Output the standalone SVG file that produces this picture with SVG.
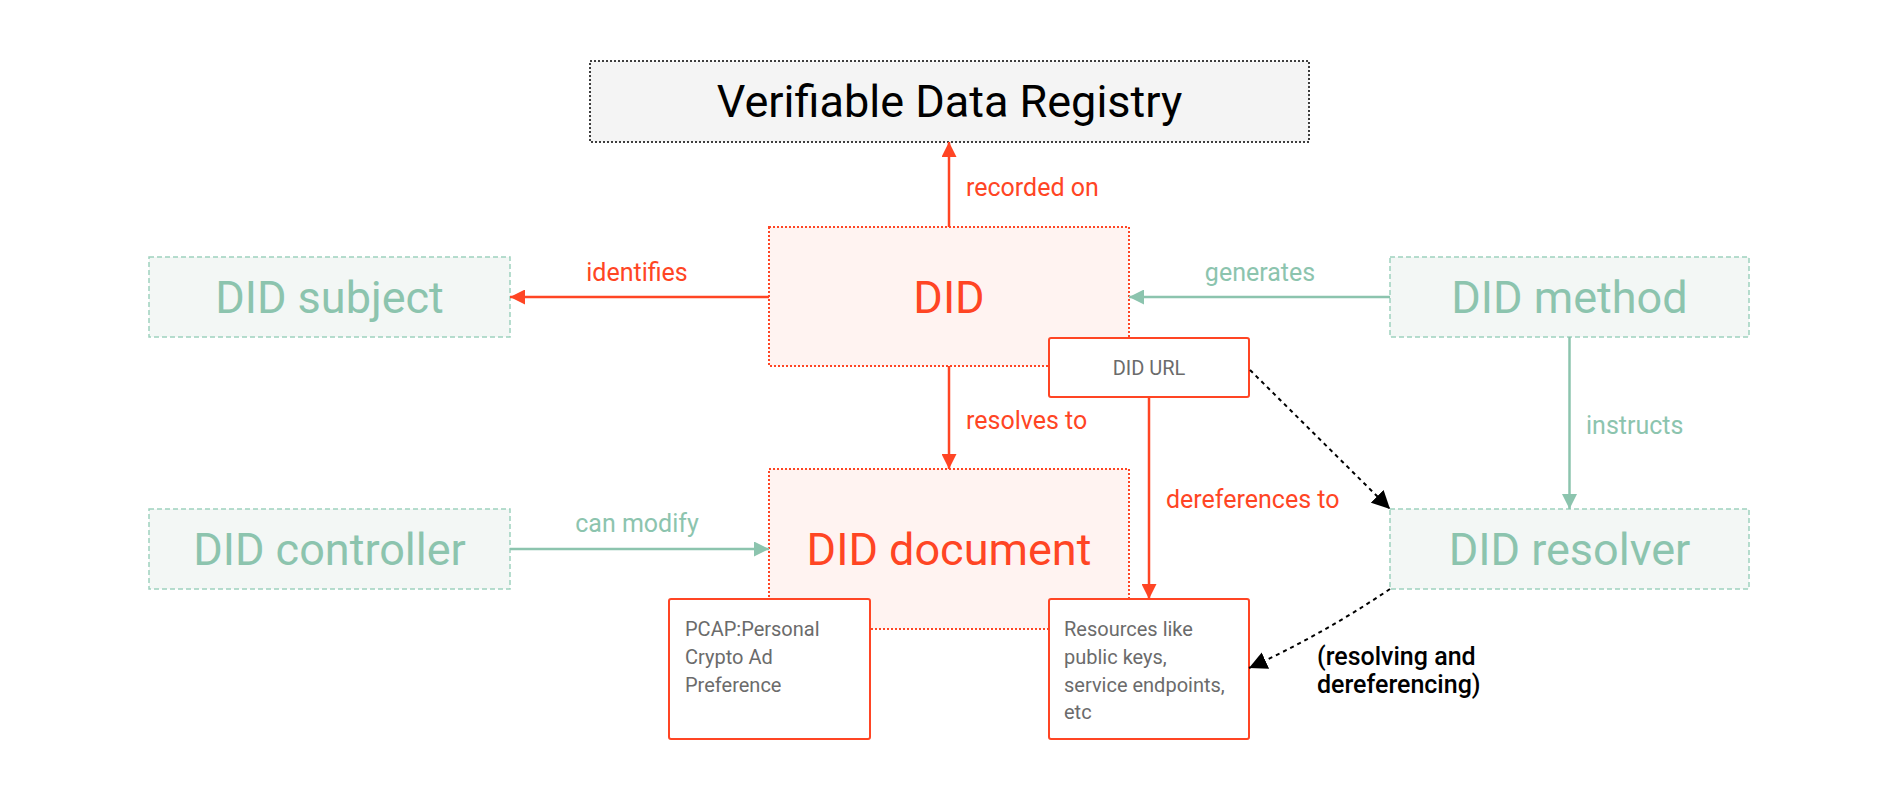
<svg xmlns="http://www.w3.org/2000/svg" width="1900" height="800" viewBox="0 0 1900 800">
<style>
.big{font-family:Roboto,"Liberation Sans",sans-serif;font-size:45px;text-anchor:middle}
.g{fill:#8cc4ae}
.r{fill:#ff4524}
.lbl{font-family:Roboto,"Liberation Sans",sans-serif;font-size:25px}
.sm{font-family:Roboto,"Liberation Sans",sans-serif;font-size:20px;fill:#6b6b6b}
.gbox{fill:#f3f7f5;stroke:#9fd2be;stroke-width:1.5;stroke-dasharray:5 3}
.rbox{fill:#fff3f1;stroke:#ff4524;stroke-width:2;stroke-dasharray:2 2}
.wbox{fill:#fff;stroke:#ff4524;stroke-width:2}
.rl{stroke:#ff4524;stroke-width:2.5;fill:none}
.gl{stroke:#8cc4ae;stroke-width:2.5;fill:none}
.kl{stroke:#000;stroke-width:2;fill:none;stroke-dasharray:4 4}
</style>
<defs>
<marker id="ar" viewBox="0 0 10 10" refX="10" refY="5" markerWidth="15" markerHeight="15" markerUnits="userSpaceOnUse" orient="auto"><path d="M0,0L10,5L0,10z" fill="#ff4524"/></marker>
<marker id="ag" viewBox="0 0 10 10" refX="10" refY="5" markerWidth="15" markerHeight="15" markerUnits="userSpaceOnUse" orient="auto"><path d="M0,0L10,5L0,10z" fill="#8cc4ae"/></marker>
<marker id="ak" viewBox="0 0 10 10" refX="10" refY="5" markerWidth="18" markerHeight="18" markerUnits="userSpaceOnUse" orient="auto"><path d="M0,0L10,5L0,10z" fill="#000"/></marker>
</defs>
<rect width="1900" height="800" fill="#fff"/>

<g id="vdr">
<rect x="590" y="61" width="719" height="81" fill="#f4f4f4" stroke="#000" stroke-width="1.5" stroke-dasharray="2 2"/>
<text x="949.5" y="117" class="big" fill="#000">Verifiable Data Registry</text>
</g>
<g id="did-subject">
<rect x="149" y="257" width="361" height="80" class="gbox"/>
<text x="329.5" y="313" class="big g">DID subject</text>
</g>
<g id="did-controller">
<rect x="149" y="509" width="361" height="80" class="gbox"/>
<text x="329.5" y="565" class="big g">DID controller</text>
</g>
<g id="did-method">
<rect x="1390" y="257" width="359" height="80" class="gbox"/>
<text x="1569.5" y="313" class="big g">DID method</text>
</g>
<g id="did-resolver">
<rect x="1390" y="509" width="359" height="80" class="gbox"/>
<text x="1569.5" y="565" class="big g">DID resolver</text>
</g>
<g id="did">
<rect x="769" y="227" width="360" height="139" class="rbox"/>
<text x="949" y="313" class="big r">DID</text>
</g>
<g id="did-document">
<rect x="769" y="469" width="360" height="160" class="rbox"/>
<text x="949" y="565" class="big r">DID document</text>
</g>
<g id="did-url">
<rect x="1049" y="338" width="200" height="59" rx="2" class="wbox"/>
<text x="1149" y="375" class="sm" text-anchor="middle">DID URL</text>
</g>
<g id="pcap">
<rect x="669" y="599" width="201" height="140" rx="2" class="wbox"/>
<text class="sm"><tspan x="685" y="636">PCAP:Personal</tspan><tspan x="685" y="664">Crypto Ad</tspan><tspan x="685" y="692">Preference</tspan></text>
</g>
<g id="resources">
<rect x="1049" y="599" width="200" height="140" rx="2" class="wbox"/>
<text class="sm"><tspan x="1064" y="636">Resources like</tspan><tspan x="1064" y="664">public keys,</tspan><tspan x="1064" y="692">service endpoints,</tspan><tspan x="1064" y="719">etc</tspan></text>
</g>

<g id="connectors">
<line x1="949" y1="227" x2="949" y2="142" class="rl" marker-end="url(#ar)"/>
<text x="966" y="196" class="lbl r">recorded on</text>
<line x1="769" y1="297" x2="510" y2="297" class="rl" marker-end="url(#ar)"/>
<text x="637" y="281" class="lbl r" text-anchor="middle">identifies</text>
<line x1="1390" y1="297" x2="1129" y2="297" class="gl" marker-end="url(#ag)"/>
<text x="1260" y="281" class="lbl g" text-anchor="middle">generates</text>
<line x1="949" y1="366" x2="949" y2="469" class="rl" marker-end="url(#ar)"/>
<text x="966" y="429" class="lbl r">resolves to</text>
<line x1="510" y1="549" x2="769" y2="549" class="gl" marker-end="url(#ag)"/>
<text x="637" y="532" class="lbl g" text-anchor="middle">can modify</text>
<line x1="1569.5" y1="337" x2="1569.5" y2="509" class="gl" marker-end="url(#ag)"/>
<text x="1586" y="434" class="lbl g">instructs</text>
<line x1="1149" y1="397" x2="1149" y2="599" class="rl" marker-end="url(#ar)"/>
<text x="1166" y="508" class="lbl r">dereferences to</text>
<path d="M1250,370 L1390,509" class="kl" marker-end="url(#ak)"/>
<path d="M1390,589 Q1320,636 1249,668" class="kl" marker-end="url(#ak)"/>
<text class="lbl" fill="#000" font-weight="500"><tspan x="1317" y="665">(resolving and</tspan><tspan x="1317" y="693">dereferencing)</tspan></text>
</g>
</svg>
